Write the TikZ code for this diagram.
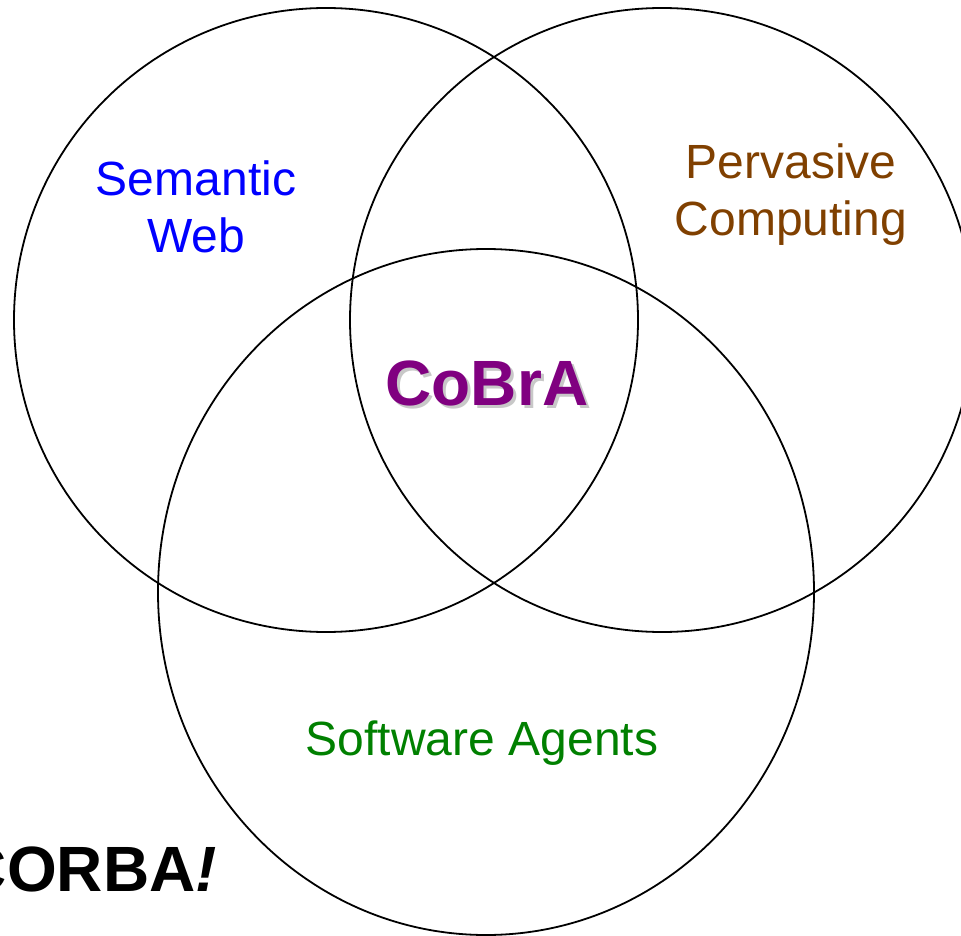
\documentclass[tikz,border=0pt]{standalone}
\usepackage{fontspec}
\setmainfont{Liberation Sans}
\usepackage{tikz}
\usetikzlibrary{positioning}
\definecolor{swblue}{RGB}{0,0,255}
\definecolor{pcbrown}{RGB}{128,64,0}
\definecolor{sagreen}{RGB}{0,128,0}
\definecolor{cbpurple}{RGB}{128,0,128}
\definecolor{cbshadow}{RGB}{200,200,200}
\tikzset{
  ring/.style = {line width=1.8pt},
  area/.style = {align=center, anchor=base, font=\fontsize{48}{57}\selectfont},
  big/.style  = {anchor=base, font=\fontsize{64}{72}\selectfont\bfseries}
}

\begin{document}
\begin{tikzpicture}[x=1pt, y=-1pt]
\useasboundingbox (0,0) rectangle (961,936);
\clip (0,0) rectangle (961,936);

\draw [ring] (326,320) circle [radius=312];
\draw [ring] (662,320) circle [radius=312];
\draw [ring] (486,592) ellipse [x radius=328, y radius=343];

% anchor=base sits on the last line
\node [area, text=swblue] (sw) at (196,252) {Semantic\\Web};
\node [area, text=pcbrown] (pc) at (791,236) {Pervasive\\Computing};
\node [area, text=sagreen] (sa) at (482,755) {Software Agents};

\node [big, text=cbshadow] at (490,408) {CoBrA};
\node [big, text=cbpurple] (cobra) at (487,405) {CoBrA};

\node [big, anchor=base east, inner xsep=0pt] (corba) at (217,891) {CORBA\textit{!}};

\end{tikzpicture}
\end{document}
